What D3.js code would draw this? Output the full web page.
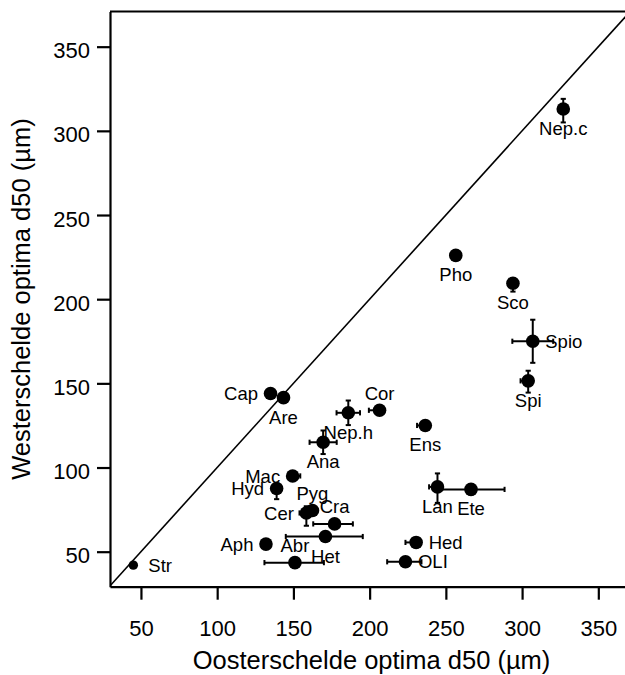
<!DOCTYPE html>
<html>
<head>
<meta charset="utf-8">
<script src="https://cdn.jsdelivr.net/npm/d3@7"></script>
<style>
  body { margin: 0; background: white; }
  svg { display: block; font-family: "Liberation Sans", Arial, sans-serif; }
</style>
</head>
<body>
<div id="chart"></div>
<script>
// species optima (µm)
var names = ["Nep.c", "Pho", "Sco", "Spio", "Spi", "Cap", "Are", "Cor", "Nep.h", "Ana",
             "Mac", "Hyd", "Pyg", "Cer", "Cra", "Het", "Abr", "Aph", "Str", "Ens",
             "Lan", "Ete", "Hed", "OLI"];
var oosterschelde = [327, 256.5, 294, 307, 304, 135, 143.5, 206.5, 186, 169.5,
                     149.5, 139, 162.5, 158.5, 177, 171, 151, 132, 45, 236.5,
                     244.5, 266.5, 230.5, 223.5];
var westerschelde = [313, 226, 209.5, 175, 151.5, 144, 141.5, 134, 132.5, 115,
                     95, 87.5, 74.5, 73, 66.5, 59, 43.5, 54.5, 42, 125,
                     88.5, 87, 55.5, 44];
// error bars (lower / upper extent)
var xErrLo = [0, 0, 0, 13.4, 5, 0, 0, 7, 7.7, 8.9, 0, 0, 0, 4.5, 14, 26, 20, 0, 0, 5.4, 5.5, 21, 7, 12];
var xErrHi = [0, 0, 0, 13.4, 0, 0, 0, 0, 7.7, 8.9, 5, 0, 0, 0, 12, 24.5, 19, 0, 0, 0, 0, 22, 3, 10.5];
var yErrLo = [8, 0, 5, 12.8, 7, 0, 0, 0, 7.3, 7, 0, 6.3, 0, 7.6, 3, 0, 0, 0, 0, 0, 9.5, 3, 0, 0];
var yErrHi = [6, 0, 0, 12.8, 6, 0, 0, 0, 7.3, 7, 0, 0, 0, 4, 0, 0, 0, 0, 0, 0, 8, 0, 0, 0];

var xTicks = [50, 100, 150, 200, 250, 300, 350];
var yTicks = [50, 100, 150, 200, 250, 300, 350];

var xTitle = "Oosterschelde optima d50 (µm)";
var yTitle = "Westerschelde optima d50 (µm)";

// where each label sits relative to its point: b below, t above, l left, r right
var labelSide = {
    "Nep.c": "b", "Pho": "b", "Sco": "b", "Spio": "r", "Spi": "b", "Cap": "l",
    "Are": "b", "Cor": "t", "Nep.h": "b", "Ana": "b", "Mac": "l", "Hyd": "l",
    "Pyg": "t", "Cer": "l", "Cra": "t", "Het": "b", "Abr": "t", "Aph": "l",
    "Str": "r", "Ens": "b", "Lan": "b", "Ete": "b", "Hed": "r", "OLI": "r"
};

var width = 625, height = 675;
var plotLeft = 110, plotRight = 625, plotTop = 11.5, plotBottom = 586.7;

var svg = d3.select("#chart").append("svg")
    .attr("width", width)
    .attr("height", height);

var x = d3.scaleLinear().domain([29.7, 367.5]).range([plotLeft, plotRight]);
var y = d3.scaleLinear().domain([29.2, 370.9]).range([plotBottom, plotTop]);

var points = names.map(function(n, i) {
    return { name: n, x: oosterschelde[i], y: westerschelde[i],
             xlo: xErrLo[i], xhi: xErrHi[i], ylo: yErrLo[i], yhi: yErrHi[i] };
});

svg.append("clipPath").attr("id", "plotClip")
    .append("rect")
    .attr("x", plotLeft).attr("y", plotTop)
    .attr("width", plotRight - plotLeft).attr("height", plotBottom - plotTop);

// 1:1 line
svg.append("line")
    .attr("clip-path", "url(#plotClip)")
    .attr("x1", x(29)).attr("y1", y(29))
    .attr("x2", x(380)).attr("y2", y(380))
    .style("stroke", "black")
    .style("stroke-width", 1.6);

// axes
var xAxis = svg.append("g")
    .attr("transform", "translate(0," + plotBottom + ")")
    .call(d3.axisBottom(x).tickValues(xTicks).tickSize(13).tickSizeOuter(0).tickPadding(21));
var yAxis = svg.append("g")
    .attr("transform", "translate(" + plotLeft + ",0)")
    .call(d3.axisLeft(y).tickValues(yTicks).tickSize(13).tickSizeOuter(0).tickPadding(7));

[xAxis, yAxis].forEach(function(a) {
    a.attr("font-size", null).attr("font-family", null);
    a.selectAll("path, line").style("stroke", "black").style("stroke-width", 2.2);
    a.selectAll("text").style("font-size", "22px").style("fill", "black");
});
yAxis.selectAll("text").attr("dy", "0.5em");

svg.append("line")
    .attr("x1", plotLeft).attr("y1", plotTop)
    .attr("x2", plotRight).attr("y2", plotTop)
    .style("stroke", "black")
    .style("stroke-width", 2.2);

// error bars
var cap = 2.6;
var bars = svg.append("g").style("stroke", "black").style("stroke-width", 2);
points.forEach(function(d) {
    var cx = x(d.x), cy = y(d.y);
    if (d.xlo > 0 || d.xhi > 0) {
        var x0 = x(d.x - d.xlo), x1 = x(d.x + d.xhi);
        bars.append("line").attr("x1", x0).attr("x2", x1).attr("y1", cy).attr("y2", cy);
        if (d.xlo > 0) bars.append("line").attr("x1", x0).attr("x2", x0).attr("y1", cy - cap).attr("y2", cy + cap);
        if (d.xhi > 0) bars.append("line").attr("x1", x1).attr("x2", x1).attr("y1", cy - cap).attr("y2", cy + cap);
    }
    if (d.ylo > 0 || d.yhi > 0) {
        var y0 = y(d.y - d.ylo), y1 = y(d.y + d.yhi);
        bars.append("line").attr("x1", cx).attr("x2", cx).attr("y1", y0).attr("y2", y1);
        if (d.ylo > 0) bars.append("line").attr("x1", cx - cap).attr("x2", cx + cap).attr("y1", y0).attr("y2", y0);
        if (d.yhi > 0) bars.append("line").attr("x1", cx - cap).attr("x2", cx + cap).attr("y1", y1).attr("y2", y1);
    }
});

// points
svg.append("g").selectAll("circle")
    .data(points)
    .enter()
    .append("circle")
    .attr("cx", function(d) { return x(d.x); })
    .attr("cy", function(d) { return y(d.y); })
    .attr("r", function(d) { return d.name === "Str" ? 4.7 : 6.8; })
    .style("fill", "black");

// labels
svg.append("g").selectAll("text")
    .data(points)
    .enter()
    .append("text")
    .text(function(d) { return d.name; })
    .attr("x", function(d) {
        var s = labelSide[d.name];
        if (s === "l") return x(d.x) - 12.5;
        if (s === "r") return x(d.x) + (d.name === "Str" ? 15 : 12.5);
        return x(d.x);
    })
    .attr("y", function(d) {
        var s = labelSide[d.name];
        if (s === "b") return y(d.y) + 26;
        if (s === "t") return y(d.y) - 10.5;
        return y(d.y) + 6.6;
    })
    .attr("text-anchor", function(d) {
        var s = labelSide[d.name];
        return s === "l" ? "end" : (s === "r" ? "start" : "middle");
    })
    .style("font-size", "18.5px")
    .style("fill", "black");

// axis titles
svg.append("text")
    .attr("x", (plotLeft + plotRight) / 2 + 4)
    .attr("y", 669)
    .attr("text-anchor", "middle")
    .style("font-size", "25.5px")
    .text(xTitle);

svg.append("text")
    .attr("transform", "translate(30," + (plotTop + plotBottom) / 2 + ") rotate(-90)")
    .attr("text-anchor", "middle")
    .style("font-size", "25.5px")
    .text(yTitle);
</script>
</body>
</html>
